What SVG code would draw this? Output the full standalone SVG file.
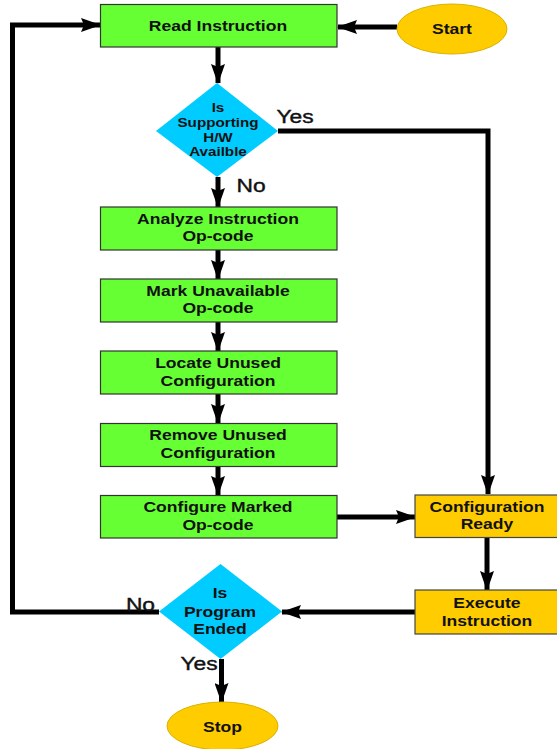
<svg xmlns="http://www.w3.org/2000/svg" width="557" height="749" viewBox="0 0 557 749">
  <style>
    .proc { fill: #66FF33; stroke: #333333; stroke-width: 1.2; }
    .state { fill: #FFCC00; stroke: #444444; stroke-width: 1.2; }
    .term { fill: #FFCC00; stroke: #D9B200; stroke-width: 1; }
    .dec { fill: #00CCFF; }
    .t { font-family: "Liberation Sans", Arial, sans-serif; font-weight: bold; font-size: 15px; fill: #111111; text-anchor: middle; transform-box: fill-box; transform-origin: center; transform: scaleX(1.17); }
    .ts { font-size: 13px; }
    .lbl { font-family: "Liberation Sans", Arial, sans-serif; font-size: 19px; fill: #111111; stroke: #111111; stroke-width: 0.4; text-anchor: middle; transform-box: fill-box; transform-origin: center; transform: scaleX(1.2); }
    .c { fill: none; stroke: #000000; stroke-width: 5; stroke-linejoin: miter; }
  </style>
  <defs>
    <marker id="ah" markerUnits="userSpaceOnUse" markerWidth="20" markerHeight="14" viewBox="0 0 20 14" refX="19" refY="7" orient="auto">
      <path d="M0,0 L20,7 L0,14 L3,7 z" fill="#000000"/>
    </marker>
  </defs>

  <!-- connectors -->
  <g id="connectors">
    <path class="c" d="M397,27 L338,27" marker-end="url(#ah)"/>
    <path class="c" d="M218,47 L218,83" marker-end="url(#ah)"/>
    <path class="c" d="M278,131 L488,131 L488,494" marker-end="url(#ah)"/>
    <path class="c" d="M218,177 L218,207" marker-end="url(#ah)"/>
    <path class="c" d="M218,250 L218,279" marker-end="url(#ah)"/>
    <path class="c" d="M218,322 L218,351" marker-end="url(#ah)"/>
    <path class="c" d="M218,394 L218,423" marker-end="url(#ah)"/>
    <path class="c" d="M218,466 L218,495" marker-end="url(#ah)"/>
    <path class="c" d="M337,517 L415,517" marker-end="url(#ah)"/>
    <path class="c" d="M487,538 L487,590" marker-end="url(#ah)"/>
    <path class="c" d="M415,612 L282,612" marker-end="url(#ah)"/>
    <path class="c" d="M159,612 L12.5,612 L12.5,25 L100,25" marker-end="url(#ah)"/>
    <path class="c" d="M221.5,659 L221.5,702" marker-end="url(#ah)"/>
    <text class="lbl" x="295" y="123">Yes</text>
    <text class="lbl" x="251" y="192">No</text>
    <text class="lbl" x="140.5" y="611">No</text>
    <text class="lbl" x="199" y="670">Yes</text>
  </g>

  <g id="start">
    <ellipse class="term" cx="452" cy="29" rx="55" ry="25"/>
    <text class="t" x="452" y="34">Start</text>
  </g>

  <g id="read-instruction">
    <rect class="proc" x="100.5" y="4.5" width="236.5" height="42.5"/>
    <text class="t" x="218" y="31">Read Instruction</text>
  </g>

  <g id="hw-available">
    <polygon class="dec" points="217,83 278,131 217,177 156,131"/>
    <text class="t ts" x="218" y="112">Is</text>
    <text class="t ts" x="218" y="127">Supporting</text>
    <text class="t ts" x="218" y="142">H/W</text>
    <text class="t ts" x="218" y="156">Availble</text>
  </g>

  <g id="analyze">
    <rect class="proc" x="100.5" y="207" width="236.5" height="43"/>
    <text class="t" x="218" y="224">Analyze Instruction</text>
    <text class="t" x="218" y="241">Op-code</text>
  </g>

  <g id="mark">
    <rect class="proc" x="100.5" y="279" width="236.5" height="43"/>
    <text class="t" x="218" y="296">Mark Unavailable</text>
    <text class="t" x="218" y="313">Op-code</text>
  </g>

  <g id="locate">
    <rect class="proc" x="100.5" y="351" width="236.5" height="43"/>
    <text class="t" x="218" y="368">Locate Unused</text>
    <text class="t" x="218" y="386">Configuration</text>
  </g>

  <g id="remove">
    <rect class="proc" x="100.5" y="423.5" width="236.5" height="43"/>
    <text class="t" x="218" y="440">Remove Unused</text>
    <text class="t" x="218" y="458">Configuration</text>
  </g>

  <g id="configure-marked">
    <rect class="proc" x="100.5" y="495.5" width="236.5" height="42.5"/>
    <text class="t" x="218" y="512">Configure Marked</text>
    <text class="t" x="218" y="530">Op-code</text>
  </g>

  <g id="config-ready">
    <rect class="state" x="415" y="495" width="145" height="42.5"/>
    <text class="t" x="487" y="512">Configuration</text>
    <text class="t" x="487" y="529">Ready</text>
  </g>

  <g id="execute">
    <rect class="state" x="415" y="590" width="145" height="44"/>
    <text class="t" x="487" y="608">Execute</text>
    <text class="t" x="487" y="626">Instruction</text>
  </g>

  <g id="program-ended">
    <polygon class="dec" points="220.5,564 282,611.5 220.5,659 159,611.5"/>
    <text class="t" x="220" y="598">Is</text>
    <text class="t" x="220" y="617">Program</text>
    <text class="t" x="220" y="634">Ended</text>
  </g>

  <g id="stop">
    <ellipse class="term" cx="222.5" cy="726" rx="55.5" ry="24"/>
    <text class="t" x="222.5" y="732">Stop</text>
  </g>
</svg>
